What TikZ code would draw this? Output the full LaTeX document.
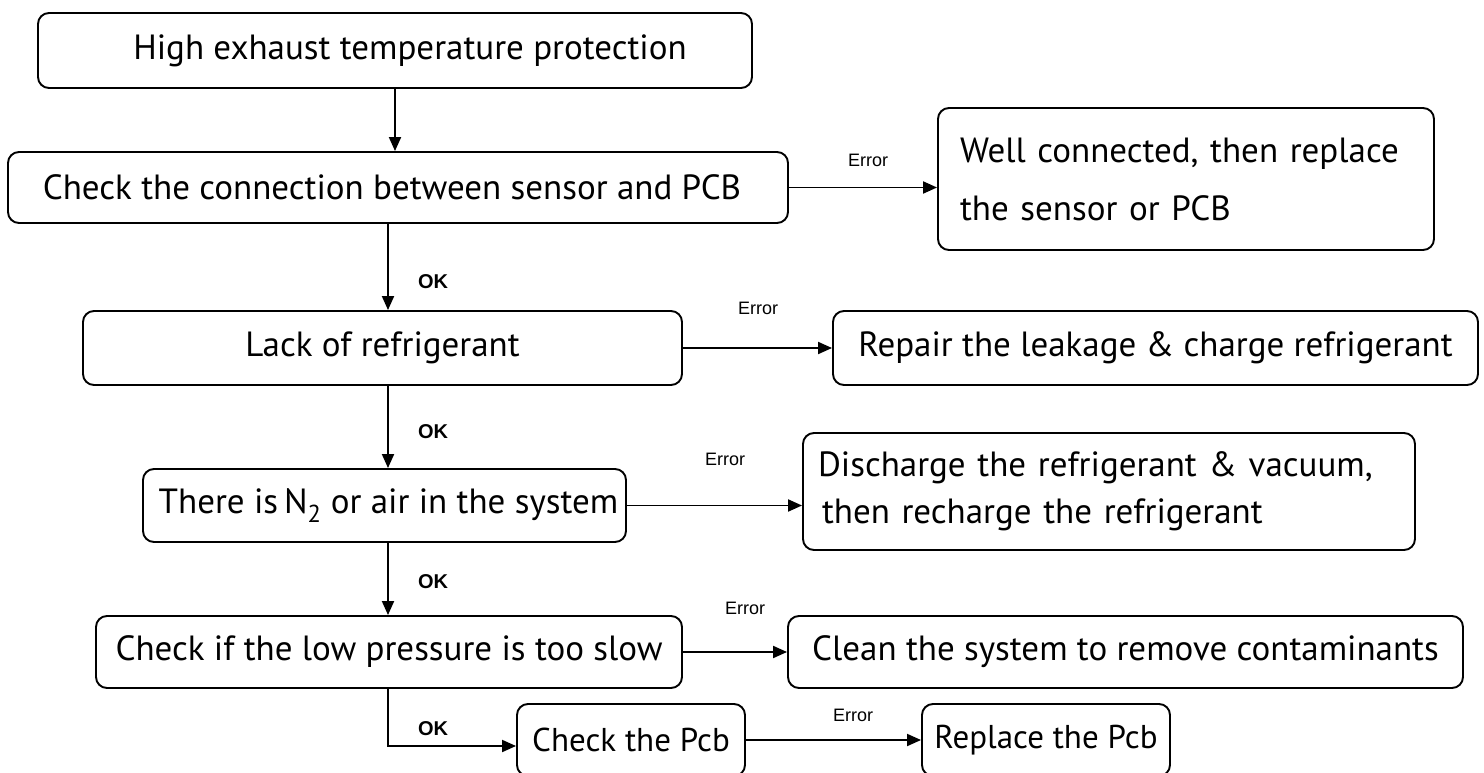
\documentclass[tikz,border=0pt]{standalone}
\usepackage{fontspec}
\setmainfont{PT Sans}
\newfontfamily\labfont{Liberation Sans}
\usetikzlibrary{arrows.meta}
\begin{document}
\begin{tikzpicture}[x=1pt,y=-1pt,
 box/.style={draw, line width=1.9pt, rounded corners=11pt, inner sep=0pt, font=\fontsize{35}{48}\selectfont},
 smallbox/.style={box, font=\fontsize{33}{44}\selectfont},
 arr/.style={line width=1.9pt, -{Triangle[length=14pt,width=12pt]}},
 errlab/.style={font=\labfont\fontsize{18}{20}\selectfont},
 oklab/.style={font=\labfont\bfseries\fontsize{20}{22}\selectfont}]
\useasboundingbox (0,0) rectangle (1484,773);
\coordinate (v) at (388,0);
\node[box, minimum width=714pt, minimum height=75pt] (b1) at (395,50.5) {\hspace*{30pt}High exhaust temperature protection};
\node[box, minimum width=780pt, minimum height=71pt] (b2) at (398,187.5) {Check the connection between sensor and PCB\hspace*{12pt}};
\node[box, inner xsep=22pt, text width=452pt, align=left, minimum height=142pt, font=\fontsize{35}{58}\selectfont] (b3) at (1186,179) {Well connected, then replace\\the sensor or PCB};
\node[box, minimum width=599pt, minimum height=74pt] (b4) at (382.5,348) {Lack of refrigerant};
\node[box, minimum width=645pt, minimum height=74pt] (b5) at (1155.5,348) {Repair the leakage \& charge refrigerant};
\node[box, minimum width=483pt, minimum height=73pt] (b6) at (384.5,505.5) {\hspace*{8pt}There is\,N\textsubscript{2} or air in the system};
\node[box, inner xsep=15pt, text width=582pt, align=left, minimum height=117pt, font=\fontsize{35}{47}\selectfont] (b7) at (1109,491.5) {Discharge the refrigerant \& vacuum,\\\hspace*{4pt}then recharge the refrigerant};
\node[box, minimum width=586pt, minimum height=72pt] (b8) at (389,652) {Check if the low pressure is too slow};
\node[box, minimum width=675pt, minimum height=72pt] (b9) at (1125.5,652) {Clean the system to remove contaminants};
\node[smallbox, minimum width=228pt, minimum height=72pt] (b10) at (631,740) {Check the Pcb};
\node[smallbox, minimum width=248pt, minimum height=72pt] (b11) at (1046,740) {Replace the Pcb};

\draw[arr] (b1.south) -- (b1.south |- b2.north);
\draw[arr] (b2.south -| v) -- (b4.north -| v);
\draw[arr] (b4.south -| v) -- (b6.north -| v);
\draw[arr] (b6.south -| v) -- (b8.north -| v);
\draw[arr] (b8.south -| v) |- ([yshift=-6pt]b10.west);
\draw[arr] (b2.east) -- (b2.east -| b3.west);
\draw[arr] (b4.east) -- (b5.west);
\draw[arr] (b6.east) -- (b6.east -| b7.west);
\draw[arr] (b8.east) -- (b9.west);
\draw[arr] (b10.east) -- (b11.west);

\node[errlab] (e1) at (868,160) {Error};
\node[errlab] (e2) at (758,308) {Error};
\node[errlab] (e3) at (725,459) {Error};
\node[errlab] (e4) at (745,608) {Error};
\node[errlab] (e5) at (853,715) {Error};
\node[oklab] (o1) at (433,282) {OK};
\node[oklab] (o2) at (433,432) {OK};
\node[oklab] (o3) at (433,582) {OK};
\node[oklab] (o4) at (433,729) {OK};
\end{tikzpicture}
\end{document}
